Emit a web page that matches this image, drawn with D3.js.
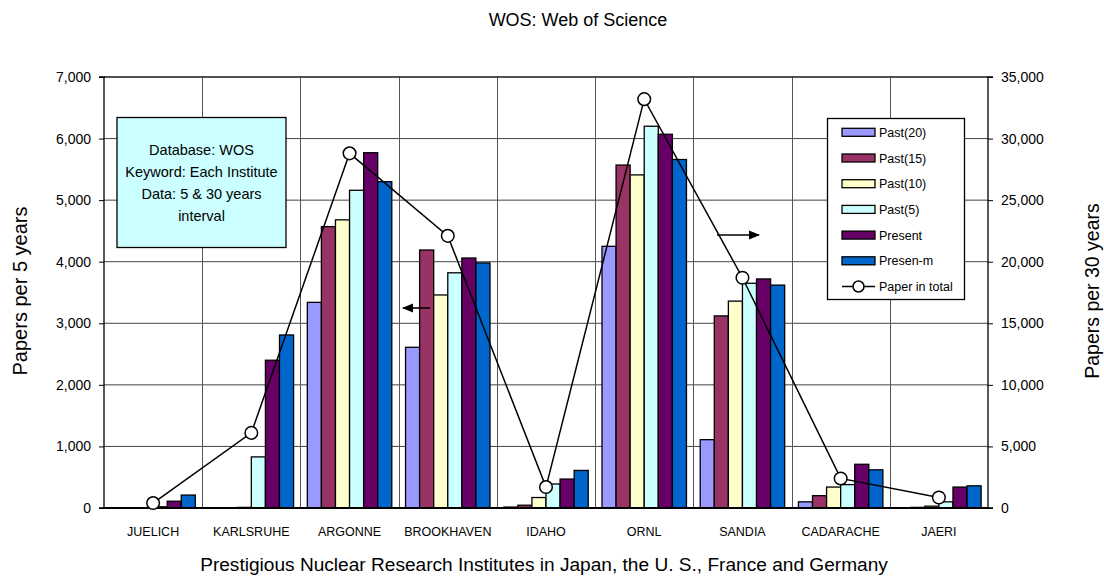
<!DOCTYPE html>
<html><head><meta charset="utf-8">
<script src="https://cdn.jsdelivr.net/npm/d3@7"></script>
<style>body{margin:0;background:#fff}svg{display:block;font-family:"Liberation Sans",Arial,sans-serif}</style>
</head><body><svg id="c" width="1104" height="577"></svg>
<script>
const categories = ["JUELICH","KARLSRUHE","ARGONNE","BROOKHAVEN","IDAHO","ORNL","SANDIA","CADARACHE","JAERI"];
const seriesNames = ["Past(20)","Past(15)","Past(10)","Past(5)","Present","Presen-m"];
const seriesColors = ["#9999ff","#993366","#ffffcc","#ccffff","#660066","#0066cc"];
const past20  = [5, 5, 3340, 2610, 15, 4250, 1110, 100, 5];
const past15  = [5, 5, 4570, 4190, 45, 5570, 3120, 200, 10];
const past10  = [5, 10, 4680, 3460, 170, 5410, 3360, 340, 30];
const past5   = [20, 830, 5160, 3820, 390, 6200, 3650, 380, 100];
const present = [110, 2400, 5770, 4060, 470, 6070, 3720, 710, 340];
const presenM = [210, 2810, 5300, 3980, 610, 5660, 3620, 620, 360];
const totalPapers = [400, 6100, 28800, 22100, 1700, 33200, 18700, 2400, 850];
const leftTicks = [0,1000,2000,3000,4000,5000,6000,7000];
const rightTicks = [0,5000,10000,15000,20000,25000,30000,35000];
const boxLines = ["Database: WOS","Keyword: Each Institute","Data: 5 & 30 years","interval"];

const seriesValues = [past20, past15, past10, past5, present, presenM];

const svg = d3.select("#c");
const L = 104, R = 988, T = 77, B = 508;
const x = d3.scaleBand().domain(categories).range([L, R]).paddingInner(0.14).paddingOuter(0.07);
const xs = d3.scaleBand().domain(seriesNames).range([0, x.bandwidth()]);
const yL = d3.scaleLinear().domain([0, 7000]).range([B, T]);
const yR = d3.scaleLinear().domain([0, 35000]).range([B, T]);
const fmt = d3.format(",");

// title
svg.append("text").attr("x", 578).attr("y", 26).attr("text-anchor","middle").attr("font-size",18).text("WOS: Web of Science");

// grid
const grid = svg.append("g");
leftTicks.filter(d=>d>0).forEach(d=>{
  grid.append("line").attr("x1",L).attr("x2",R).attr("y1",yL(d)).attr("y2",yL(d)).attr("stroke","#444").attr("stroke-width",1);
});
const step = (R-L)/categories.length;
d3.range(1, categories.length).forEach(i=>{
  const xx = Math.round(L + i*step)+0.5;
  grid.append("line").attr("x1",xx).attr("x2",xx).attr("y1",T).attr("y2",B).attr("stroke","#555").attr("stroke-width",1);
});

// bars
const barG = svg.append("g");
seriesNames.forEach((s, si)=>{
  barG.selectAll(null).data(categories).enter().append("rect")
    .attr("x", c => x(c) + xs(s))
    .attr("y", (c, i) => yL(seriesValues[si][i]))
    .attr("width", xs.bandwidth())
    .attr("height", (c, i) => B - yL(seriesValues[si][i]))
    .attr("fill", seriesColors[si]).attr("stroke","#000").attr("stroke-width",1.3);
});

// axes
const axL = d3.axisLeft(yL).tickValues(leftTicks).tickFormat(fmt).tickSize(5).tickPadding(8);
const axR = d3.axisRight(yR).tickValues(rightTicks).tickFormat(fmt).tickSize(5).tickPadding(8);
const gL = svg.append("g").attr("transform",`translate(${L},0)`).call(axL);
const gR = svg.append("g").attr("transform",`translate(${R},0)`).call(axR);
[gL,gR].forEach(g=>{
  g.select(".domain").attr("stroke","#000").attr("stroke-width",1.3).attr("d", g===gL ? `M-5,${T}H0V${B}H-5` : `M5,${T}H0V${B}H5`);
  g.selectAll("text").attr("font-size",14).attr("fill","#000").attr("font-family","Liberation Sans, Arial, sans-serif");
  g.selectAll(".tick line").attr("stroke","#000");
});
svg.append("line").attr("x1",L).attr("x2",R).attr("y1",T).attr("y2",T).attr("stroke","#000").attr("stroke-width",1);
svg.append("line").attr("x1",L).attr("x2",R).attr("y1",B).attr("y2",B).attr("stroke","#000").attr("stroke-width",2);

// category labels
svg.append("g").selectAll("text").data(categories).enter().append("text")
  .attr("x", c => x(c) + x.bandwidth()/2).attr("y", 536).attr("text-anchor","middle")
  .attr("font-size",12.5).text(c=>c);

// axis titles
svg.append("text").attr("x",544).attr("y",571).attr("text-anchor","middle").attr("font-size",19.1)
  .text("Prestigious Nuclear Research Institutes in Japan, the U. S., France and Germany");
svg.append("text").attr("transform","translate(27,291) rotate(-90)").attr("text-anchor","middle").attr("font-size",20).text("Papers per 5 years");
svg.append("text").attr("transform","translate(1099,291) rotate(-90)").attr("text-anchor","middle").attr("font-size",19.5).text("Papers per 30 years");

// line
const line = d3.line().x((d,i)=>x(categories[i]) + x.bandwidth()/2).y(d=>yR(d));
svg.append("path").datum(totalPapers).attr("d", line).attr("fill","none").attr("stroke","#000").attr("stroke-width",1.5);
svg.append("g").selectAll("circle").data(totalPapers).enter().append("circle")
  .attr("cx",(d,i)=>x(categories[i]) + x.bandwidth()/2).attr("cy",d=>yR(d)).attr("r",6.3)
  .attr("fill","#fff").attr("stroke","#000").attr("stroke-width",1.5);

// arrows
const defs = svg.append("defs");
defs.append("marker").attr("id","ah").attr("viewBox","0 0 10 10").attr("refX",9).attr("refY",5)
  .attr("markerWidth",7).attr("markerHeight",7).attr("orient","auto-start-reverse")
  .append("path").attr("d","M0,1L10,5L0,9Z").attr("fill","#000");
svg.append("line").attr("x1",430).attr("x2",403).attr("y1",308).attr("y2",308).attr("stroke","#000").attr("stroke-width",1.6).attr("marker-end","url(#ah)");
svg.append("line").attr("x1",717).attr("x2",759).attr("y1",235).attr("y2",235).attr("stroke","#000").attr("stroke-width",1.6).attr("marker-end","url(#ah)");

// text box
svg.append("rect").attr("x",117).attr("y",117.5).attr("width",169).attr("height",130).attr("fill","#ccffff").attr("stroke","#000").attr("stroke-width",1.3);
svg.append("g").selectAll("text").data(boxLines).enter().append("text")
  .attr("x",201.5).attr("y",(d,i)=>154.5 + i*22.3).attr("text-anchor","middle").attr("font-size",14.5).text(d=>d);

// legend
const lg = svg.append("g");
lg.append("rect").attr("x",827.5).attr("y",118.5).attr("width",137).attr("height",181).attr("fill","#fff").attr("stroke","#000").attr("stroke-width",1.3);
seriesNames.forEach((s,i)=>{
  const cy = 132.3 + i*25.7;
  lg.append("rect").attr("x",842).attr("y",cy-4).attr("width",33).attr("height",8).attr("fill",seriesColors[i]).attr("stroke","#000").attr("stroke-width",1.3);
  lg.append("text").attr("x",879).attr("y",cy+4.5).attr("font-size",12.5).text(s);
});
const cyl = 132.3 + 6*25.7;
lg.append("line").attr("x1",842).attr("x2",875).attr("y1",cyl).attr("y2",cyl).attr("stroke","#000").attr("stroke-width",1.5);
lg.append("circle").attr("cx",858.5).attr("cy",cyl).attr("r",5.5).attr("fill","#fff").attr("stroke","#000").attr("stroke-width",1.5);
lg.append("text").attr("x",879).attr("y",cyl+4.5).attr("font-size",12.5).text("Paper in total");
</script></body></html>
